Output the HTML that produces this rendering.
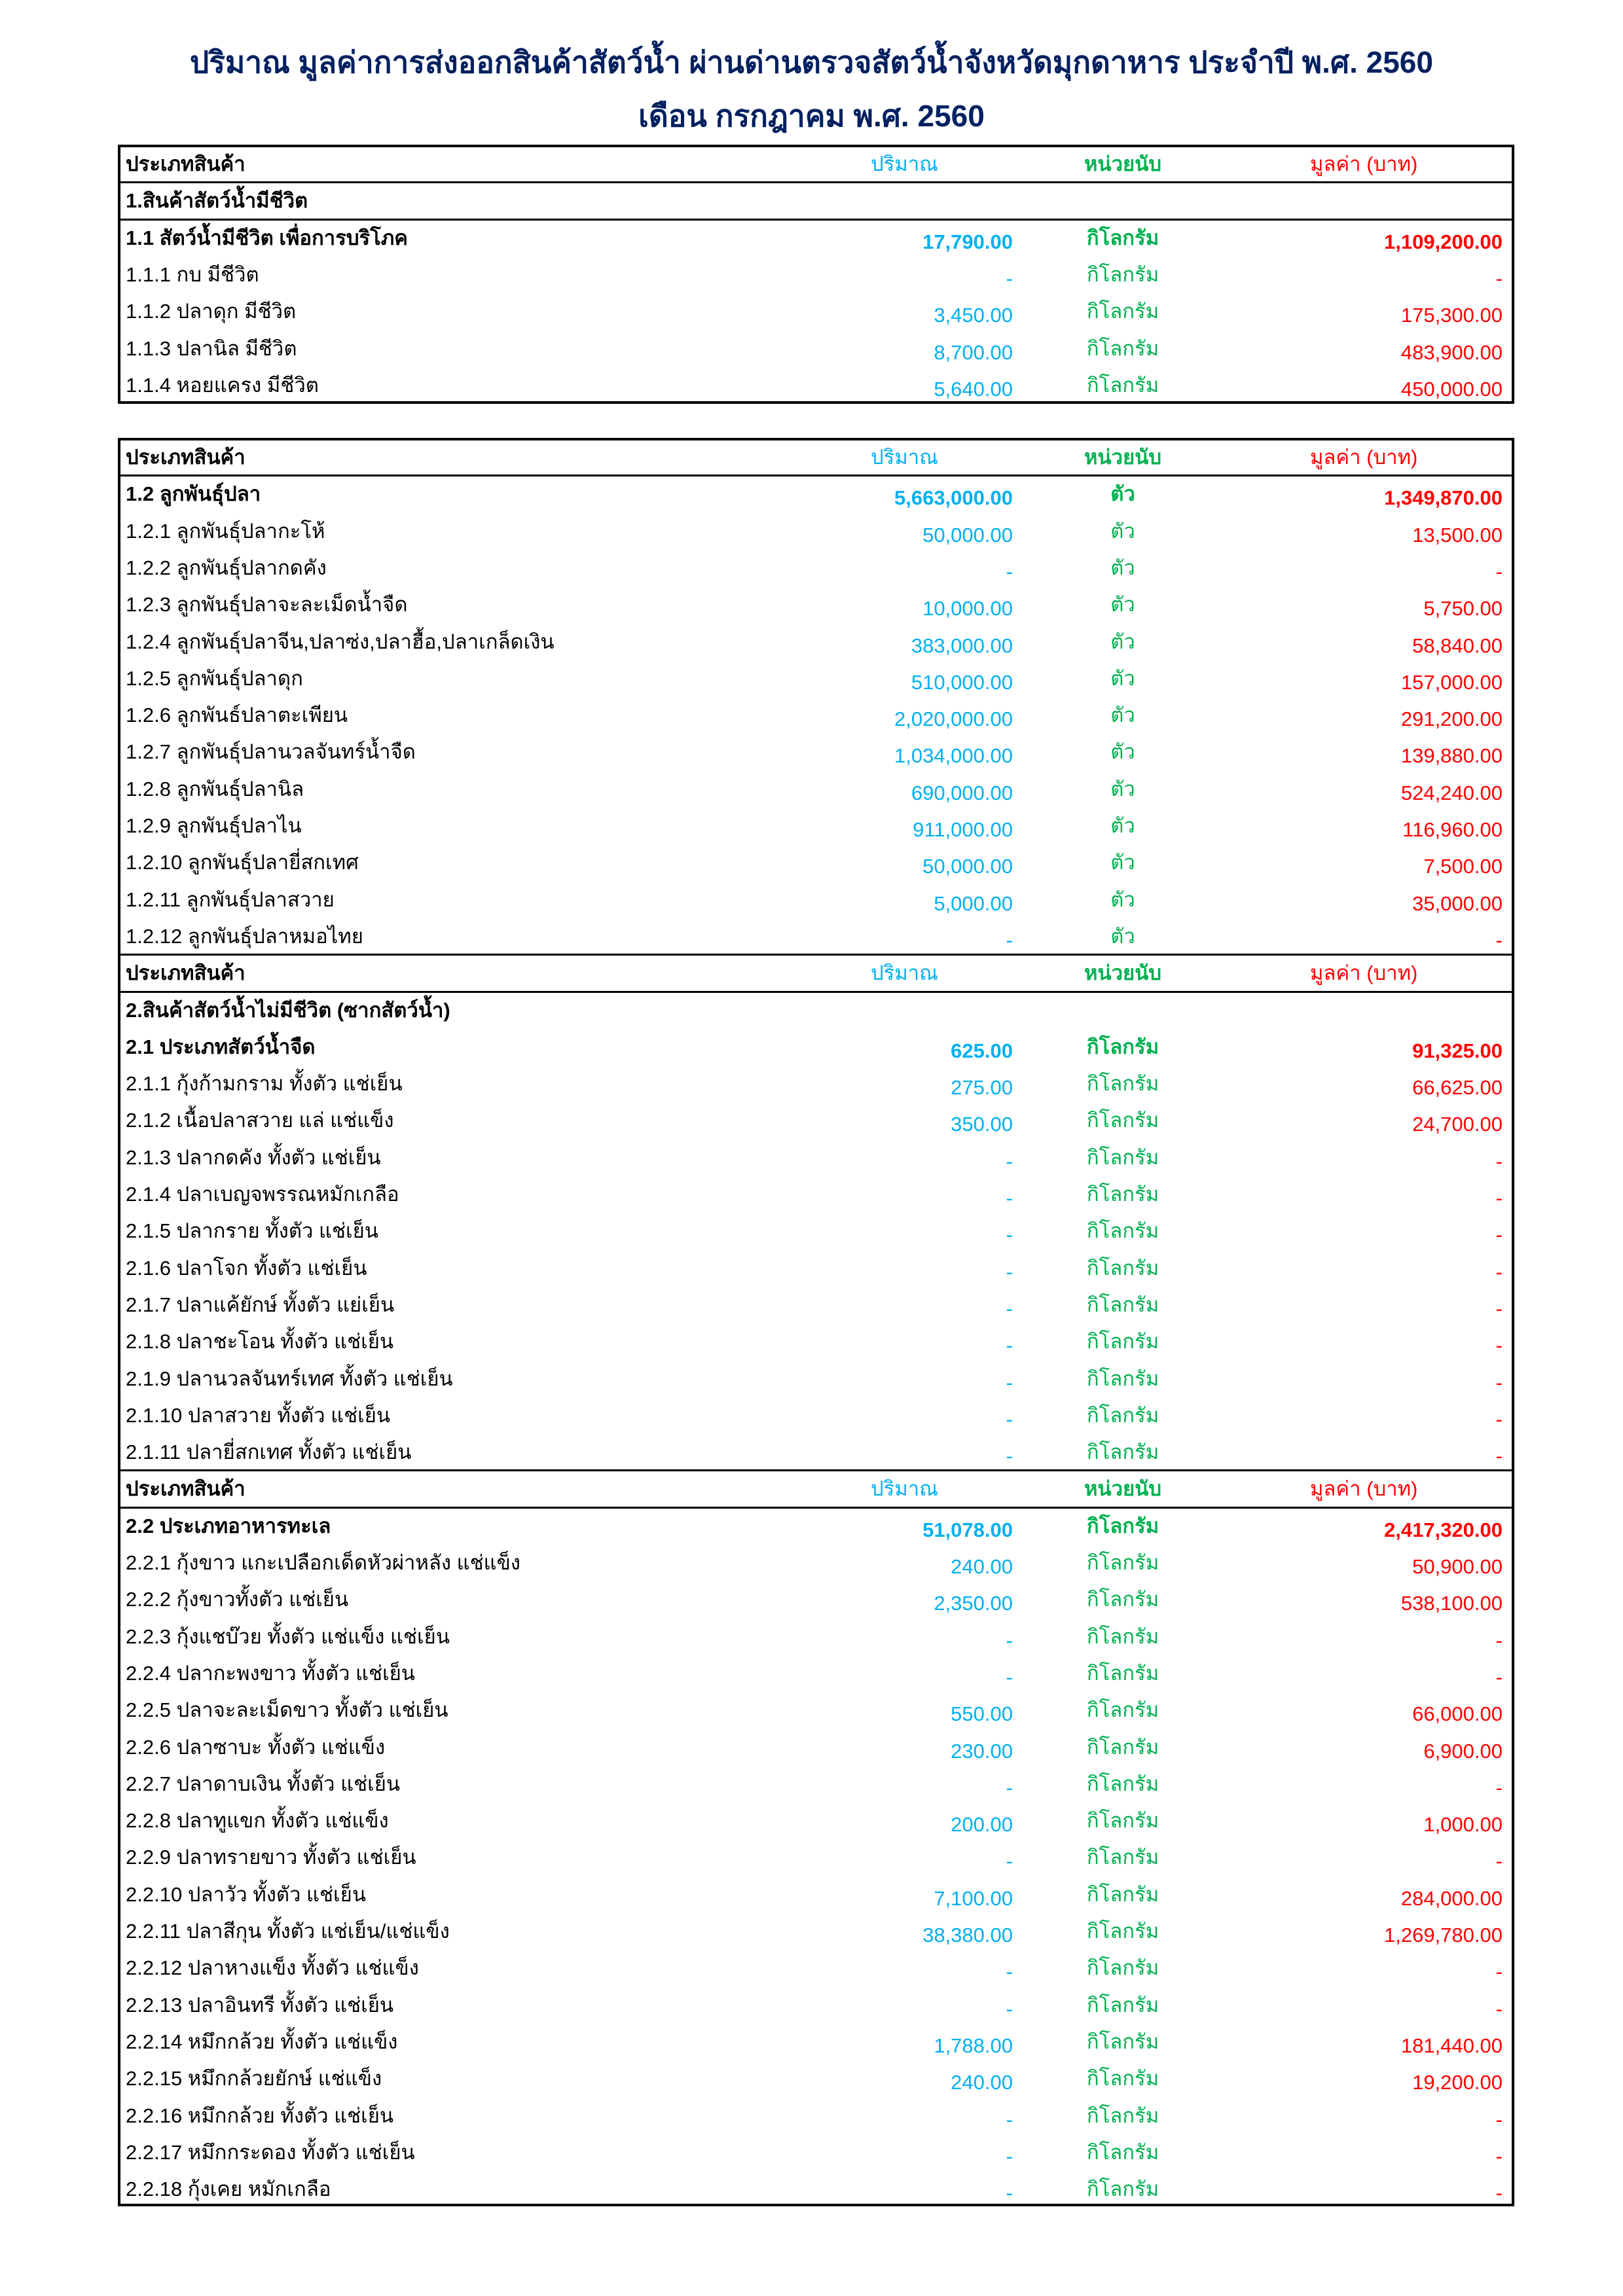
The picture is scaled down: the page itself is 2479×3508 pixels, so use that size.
<!DOCTYPE html>
<html><head><meta charset="utf-8"><style>
body{margin:0;width:2479px;height:3508px;background:#fff;position:relative;font-family:"Liberation Sans","Noto Sans CJK SC",sans-serif;overflow:hidden}
.t{position:absolute;left:0;width:2479px;text-align:center;color:#002060;font-size:46px;font-weight:bold}
.tb{position:absolute;left:180px;width:2133px;border:4px solid #000;box-sizing:border-box}
.r{position:absolute;left:0;width:2125px;height:56px;font-size:31px}
.r span{position:absolute;bottom:4px;white-space:nowrap}
.l{left:8px;color:#000}
.q{right:762px;color:#00b0f0}
.u{left:1531px;width:0;display:flex;justify-content:center;color:#00b050}
.u i{font-style:normal}
.v{right:14px;color:#f00}
.b{font-weight:bold}
.line{position:absolute;left:0;width:2125px;height:3px;background:#000}
</style></head><body>
<div class="t" style="top:59px">ปริมาณ มูลค่าการส่งออกสินค้าสัตว์น้ำ ผ่านด่านตรวจสัตว์น้ำจังหวัดมุกดาหาร ประจำปี พ.ศ. 2560</div>
<div class="t" style="top:141px">เดือน กรกฎาคม พ.ศ. 2560</div>
<div class="tb" id="t1" style="top:221px;height:396px"></div>
<div class="tb" id="t2" style="top:669px;height:2702px"></div>
<script>
const H=['H','ประเภทสินค้า','ปริมาณ','หน่วยนับ','มูลค่า (บาท)'];
const K='กิโลกรัม',T='ตัว';
const rows1=[H,
['S','1.สินค้าสัตว์น้ำมีชีวิต','','',''],
['B','1.1 สัตว์น้ำมีชีวิต เพื่อการบริโภค','17,790.00',K,'1,109,200.00'],
['N','1.1.1 กบ มีชีวิต','-',K,'-'],
['N','1.1.2 ปลาดุก มีชีวิต','3,450.00',K,'175,300.00'],
['N','1.1.3 ปลานิล มีชีวิต','8,700.00',K,'483,900.00'],
['N','1.1.4 หอยแครง มีชีวิต','5,640.00',K,'450,000.00']];
const rows2=[H,
['B','1.2 ลูกพันธุ์ปลา','5,663,000.00',T,'1,349,870.00'],
['N','1.2.1 ลูกพันธุ์ปลากะโห้','50,000.00',T,'13,500.00'],
['N','1.2.2 ลูกพันธุ์ปลากดคัง','-',T,'-'],
['N','1.2.3 ลูกพันธุ์ปลาจะละเม็ดน้ำจืด','10,000.00',T,'5,750.00'],
['N','1.2.4 ลูกพันธุ์ปลาจีน,ปลาซ่ง,ปลาฮื้อ,ปลาเกล็ดเงิน','383,000.00',T,'58,840.00'],
['N','1.2.5 ลูกพันธุ์ปลาดุก','510,000.00',T,'157,000.00'],
['N','1.2.6 ลูกพันธ์ปลาตะเพียน','2,020,000.00',T,'291,200.00'],
['N','1.2.7 ลูกพันธุ์ปลานวลจันทร์น้ำจืด','1,034,000.00',T,'139,880.00'],
['N','1.2.8 ลูกพันธุ์ปลานิล','690,000.00',T,'524,240.00'],
['N','1.2.9 ลูกพันธุ์ปลาไน','911,000.00',T,'116,960.00'],
['N','1.2.10 ลูกพันธุ์ปลายี่สกเทศ','50,000.00',T,'7,500.00'],
['N','1.2.11 ลูกพันธุ์ปลาสวาย','5,000.00',T,'35,000.00'],
['N','1.2.12 ลูกพันธุ์ปลาหมอไทย','-',T,'-'],
H,
['S','2.สินค้าสัตว์น้ำไม่มีชีวิต (ซากสัตว์น้ำ)','','',''],
['B','2.1 ประเภทสัตว์น้ำจืด','625.00',K,'91,325.00'],
['N','2.1.1 กุ้งก้ามกราม ทั้งตัว แช่เย็น','275.00',K,'66,625.00'],
['N','2.1.2 เนื้อปลาสวาย แล่ แช่แข็ง','350.00',K,'24,700.00'],
['N','2.1.3 ปลากดคัง ทั้งตัว แช่เย็น','-',K,'-'],
['N','2.1.4 ปลาเบญจพรรณหมักเกลือ','-',K,'-'],
['N','2.1.5 ปลากราย ทั้งตัว แช่เย็น','-',K,'-'],
['N','2.1.6 ปลาโจก ทั้งตัว แช่เย็น','-',K,'-'],
['N','2.1.7 ปลาแค้ยักษ์ ทั้งตัว แย่เย็น','-',K,'-'],
['N','2.1.8 ปลาชะโอน ทั้งตัว แช่เย็น','-',K,'-'],
['N','2.1.9 ปลานวลจันทร์เทศ ทั้งตัว แช่เย็น','-',K,'-'],
['N','2.1.10 ปลาสวาย ทั้งตัว แช่เย็น','-',K,'-'],
['N','2.1.11 ปลายี่สกเทศ ทั้งตัว แช่เย็น','-',K,'-'],
H,
['B','2.2 ประเภทอาหารทะเล','51,078.00',K,'2,417,320.00'],
['N','2.2.1 กุ้งขาว แกะเปลือกเด็ดหัวผ่าหลัง แช่แข็ง','240.00',K,'50,900.00'],
['N','2.2.2 กุ้งขาวทั้งตัว แช่เย็น','2,350.00',K,'538,100.00'],
['N','2.2.3 กุ้งแชบ๊วย ทั้งตัว แช่แข็ง แช่เย็น','-',K,'-'],
['N','2.2.4 ปลากะพงขาว ทั้งตัว แช่เย็น','-',K,'-'],
['N','2.2.5 ปลาจะละเม็ดขาว ทั้งตัว แช่เย็น','550.00',K,'66,000.00'],
['N','2.2.6 ปลาซาบะ ทั้งตัว แช่แข็ง','230.00',K,'6,900.00'],
['N','2.2.7 ปลาดาบเงิน ทั้งตัว แช่เย็น','-',K,'-'],
['N','2.2.8 ปลาทูแขก ทั้งตัว แช่แข็ง','200.00',K,'1,000.00'],
['N','2.2.9 ปลาทรายขาว ทั้งตัว แช่เย็น','-',K,'-'],
['N','2.2.10 ปลาวัว ทั้งตัว แช่เย็น','7,100.00',K,'284,000.00'],
['N','2.2.11 ปลาสีกุน ทั้งตัว แช่เย็น/แช่แข็ง','38,380.00',K,'1,269,780.00'],
['N','2.2.12 ปลาหางแข็ง ทั้งตัว แช่แข็ง','-',K,'-'],
['N','2.2.13 ปลาอินทรี ทั้งตัว แช่เย็น','-',K,'-'],
['N','2.2.14 หมึกกล้วย ทั้งตัว แช่แข็ง','1,788.00',K,'181,440.00'],
['N','2.2.15 หมึกกล้วยยักษ์ แช่แข็ง','240.00',K,'19,200.00'],
['N','2.2.16 หมึกกล้วย ทั้งตัว แช่เย็น','-',K,'-'],
['N','2.2.17 หมึกกระดอง ทั้งตัว แช่เย็น','-',K,'-'],
['N','2.2.18 กุ้งเคย หมักเกลือ','-',K,'-']];
function build(id,rows,rh){
  const tb=document.getElementById(id);
  rows.forEach((r,i)=>{
    const d=document.createElement('div');
    d.className='r';d.style.top=(i*rh-2)+'px';
    
    
    const bold=r[0]!=='N';const hdr=r[0]==='H';
    const cells=[['l',r[1]],['q',r[2]],['u',r[3]],['v',r[4]]];
    cells.forEach(([c,t])=>{
      if(!t)return;
      const s=document.createElement('span');
      s.className=c+(bold?' b':'');
      
      
      if(c==='u'){const x=document.createElement('i');x.textContent=t;s.appendChild(x);}
      else s.textContent=t;
      if(hdr&&c==='q'){s.style.right='auto';s.style.left='1146px';s.style.fontWeight='normal';}
      if(hdr&&c==='v'){s.style.right='auto';s.style.left='1817px';s.style.fontWeight='normal';}
      d.appendChild(s);
    });
    tb.appendChild(d);
    if(hdr||(id==='t1'&&i===1)){
      [i,i+1].forEach(k=>{if(k===0)return;const ln=document.createElement('div');ln.className='line';ln.style.top=(k*rh-4)+'px';
      
      
      tb.appendChild(ln);});
    }
  });
}
build('t1',rows1,56.3);
build('t2',rows2,56.3);
</script>
</body></html>
